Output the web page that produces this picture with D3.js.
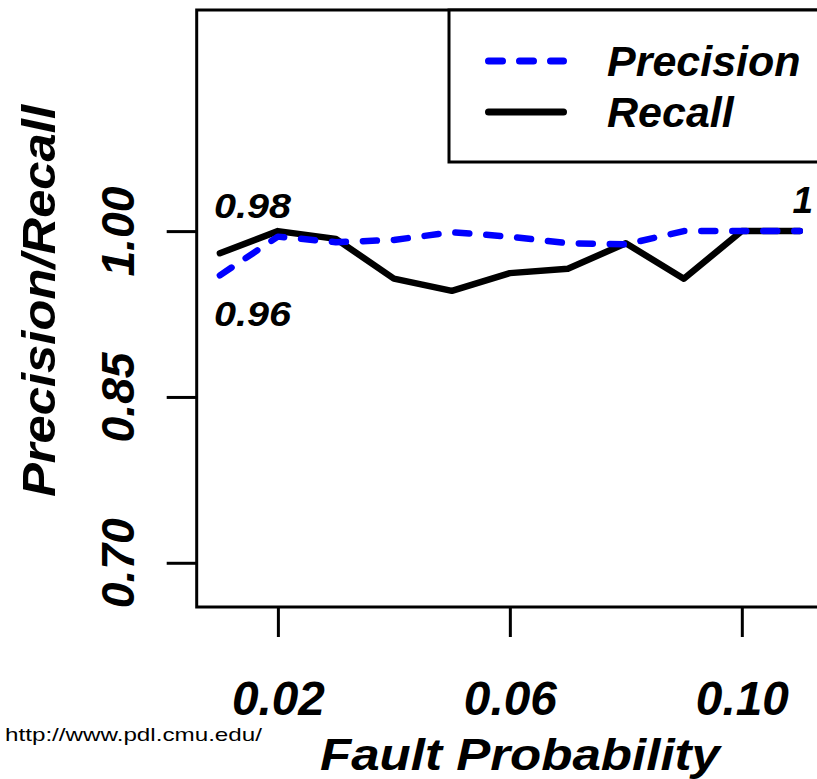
<!DOCTYPE html>
<html>
<head>
<meta charset="utf-8">
<script src="https://cdn.jsdelivr.net/npm/d3@7"></script>
<style>
  body { margin: 0; background: #fff; }
  svg { display: block; }
  text { font-family: "Liberation Sans", Arial, sans-serif; }
</style>
</head>
<body>
<script>
// values
var faultProb = [0.01, 0.02, 0.03, 0.04, 0.05, 0.06, 0.07, 0.08, 0.09, 0.10, 0.11];
var precision = [0.96, 0.995, 0.990, 0.992, 0.999, 0.995, 0.989, 0.988, 1.0, 1.0, 1.0];
var recall    = [0.98, 1.0, 0.993, 0.957, 0.946, 0.962, 0.966, 0.989, 0.957, 1.0, 1.0];
var xTicks = [0.02, 0.06, 0.10];
var yTicks = [0.70, 0.85, 1.00];
var seriesNames = ['Precision', 'Recall'];

(function () {
  var width = 817, height = 779;
  var pLeft = 196.7, pRight = 823, pTop = 10, pBottom = 607;

  var svg = d3.select('body').append('svg')
    .attr('width', width).attr('height', height);

  var x = d3.scaleLinear().domain([0.006, 0.114]).range([pLeft, pRight]);
  var y = d3.scaleLinear().domain([0.66, 1.2]).range([pBottom, pTop]);

  // plot box
  svg.append('rect')
    .attr('x', pLeft).attr('y', pTop)
    .attr('width', pRight - pLeft).attr('height', pBottom - pTop)
    .attr('fill', 'none').attr('stroke', '#000').attr('stroke-width', 3);

  // x axis ticks + labels
  var xAxis = svg.append('g').attr('transform', 'translate(0,' + pBottom + ')')
    .call(d3.axisBottom(x).tickValues(xTicks).tickSize(30).tickFormat(d3.format('.2f')));
  xAxis.select('.domain').remove();
  xAxis.selectAll('.tick line').attr('stroke', '#000').attr('stroke-width', 3);
  xAxis.selectAll('.tick text')
    .attr('y', 108).attr('dy', 0)
    .attr('fill', '#000')
    .style('font-size', '48px').style('font-weight', 'bold').style('font-style', 'italic')
    .attr('textLength', 93).attr('lengthAdjust', 'spacingAndGlyphs');

  // y axis ticks + labels
  var yAxis = svg.append('g').attr('transform', 'translate(' + pLeft + ',0)')
    .call(d3.axisLeft(y).tickValues(yTicks).tickSize(30).tickFormat(d3.format('.2f')));
  yAxis.select('.domain').remove();
  yAxis.selectAll('.tick line').attr('stroke', '#000').attr('stroke-width', 3);
  yAxis.selectAll('.tick text')
    .attr('x', 0).attr('dy', 0)
    .attr('text-anchor', 'middle')
    .attr('transform', 'translate(-63,0) rotate(-90)')
    .attr('fill', '#000')
    .style('font-size', '46px').style('font-weight', 'bold').style('font-style', 'italic')
    .attr('textLength', 90).attr('lengthAdjust', 'spacingAndGlyphs');

  // axis titles
  svg.append('text')
    .attr('transform', 'translate(55,301) rotate(-90)')
    .attr('text-anchor', 'middle')
    .style('font-size', '46px').style('font-weight', 'bold').style('font-style', 'italic')
    .attr('textLength', 392).attr('lengthAdjust', 'spacingAndGlyphs')
    .text('Precision/Recall');

  svg.append('text')
    .attr('x', 520).attr('y', 770)
    .attr('text-anchor', 'middle')
    .style('font-size', '45px').style('font-weight', 'bold').style('font-style', 'italic')
    .attr('textLength', 400).attr('lengthAdjust', 'spacingAndGlyphs')
    .text('Fault Probability');

  svg.append('text')
    .attr('x', 5).attr('y', 741)
    .style('font-size', '19px')
    .attr('textLength', 257).attr('lengthAdjust', 'spacingAndGlyphs')
    .text('http://www.pdl.cmu.edu/');

  // lines
  var line = d3.line()
    .x(function (d, i) { return x(faultProb[i]); })
    .y(function (d) { return y(d); });

  svg.append('path')
    .datum(recall)
    .attr('d', line)
    .attr('fill', 'none').attr('stroke', '#000')
    .attr('stroke-width', 6.5).attr('stroke-linejoin', 'round').attr('stroke-linecap', 'round');

  svg.append('path')
    .datum(precision)
    .attr('d', line)
    .attr('fill', 'none').attr('stroke', '#0000ff')
    .attr('stroke-width', 6.5).attr('stroke-dasharray', '14,17')
    .attr('stroke-linejoin', 'round').attr('stroke-linecap', 'round');

  // point labels
  function labelStyle(sel) {
    sel.style('font-size', '35px').style('font-weight', 'bold').style('font-style', 'italic');
  }
  svg.append('text')
    .attr('x', x(faultProb[0]) - 6).attr('y', y(recall[0]) - 35)
    .call(labelStyle)
    .attr('textLength', 77).attr('lengthAdjust', 'spacingAndGlyphs')
    .text(d3.format('.2f')(recall[0]));
  svg.append('text')
    .attr('x', x(faultProb[0]) - 6).attr('y', y(precision[0]) + 51)
    .call(labelStyle)
    .attr('textLength', 77).attr('lengthAdjust', 'spacingAndGlyphs')
    .text(d3.format('.2f')(precision[0]));
  svg.append('text')
    .attr('x', x(faultProb[10]) + 3).attr('y', y(recall[10]) - 18)
    .attr('text-anchor', 'middle')
    .call(labelStyle)
    .style('font-size', '37px')
    .text(String(recall[10]));

  // legend
  var legend = svg.append('g');
  legend.append('rect')
    .attr('x', 449).attr('y', pTop)
    .attr('width', 400).attr('height', 152)
    .attr('fill', '#fff').attr('stroke', '#000').attr('stroke-width', 3);

  var legendY = [61, 112];
  var legendStyle = [
    { color: '#0000ff', dash: '14,17' },
    { color: '#000', dash: null }
  ];
  seriesNames.forEach(function (name, i) {
    legend.append('line')
      .attr('x1', 488.5).attr('x2', 563.5)
      .attr('y1', legendY[i]).attr('y2', legendY[i])
      .attr('stroke', legendStyle[i].color).attr('stroke-width', 7)
      .attr('stroke-linecap', 'round')
      .attr('stroke-dasharray', legendStyle[i].dash);
    legend.append('text')
      .attr('x', 607).attr('y', legendY[i] + 15)
      .style('font-size', '43px').style('font-weight', 'bold').style('font-style', 'italic')
      .text(name);
  });
})();
</script>
</body>
</html>
